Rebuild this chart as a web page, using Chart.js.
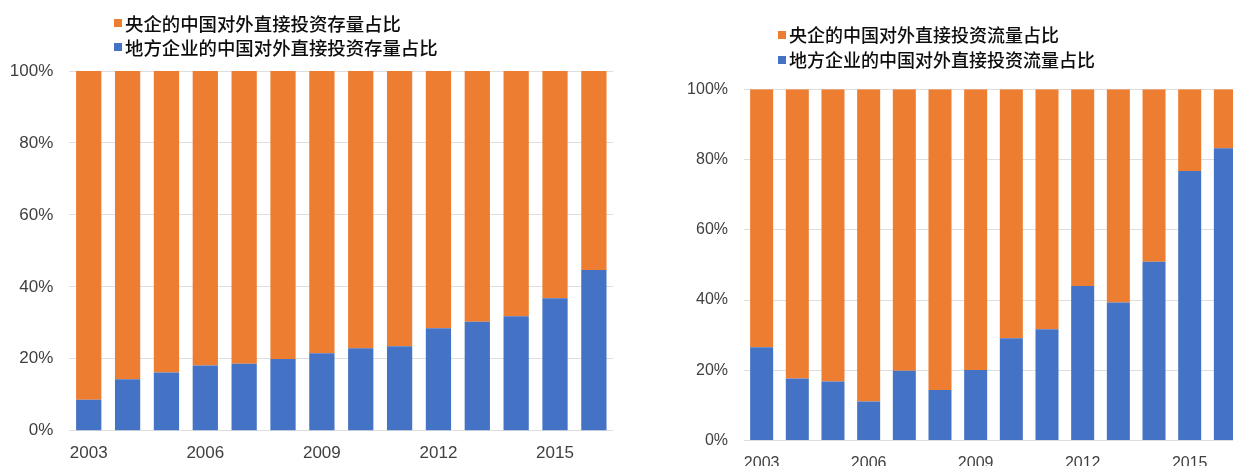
<!DOCTYPE html>
<html>
<head>
<meta charset="utf-8">
<title>央企与地方企业的中国对外直接投资占比</title>
<script src="https://cdn.jsdelivr.net/npm/chart.js"></script>
<style>
    html, body {
        margin: 0;
        padding: 0;
        background: #fff;
        overflow: hidden;
    }
    body {
        position: relative;
        width: 1233px;
        height: 466px;
    }
    canvas {
        position: absolute;
        top: 0;
    }
    #stockChart { left: 0; }
    #flowChart { left: 640px; }
    .legend {
        position: absolute;
        font-family: "Noto Sans CJK SC", sans-serif;
        font-weight: 500;
        color: #0d0d0d;
    }
    .legend .item {
        display: flex;
        align-items: center;
        white-space: nowrap;
    }
    .legend .box {
        display: inline-block;
        width: 8px;
        height: 8px;
        margin-right: 3px;
    }
</style>
</head>
<body>
    <canvas id="stockChart" width="640" height="466"></canvas>
    <canvas id="flowChart" width="620" height="466"></canvas>
    <div class="legend" id="stockLegend" style="left:114px; top:10.5px; font-size:18.4px; line-height:24px;"></div>
    <div class="legend" id="flowLegend" style="left:778px; top:22px; font-size:18px; line-height:25px;"></div>
    <script>
        const years = ['2003', '2004', '2005', '2006', '2007', '2008', '2009',
                       '2010', '2011', '2012', '2013', '2014', '2015', '2016'];

        // 存量占比 (%)
        const stockCentral = [91.4, 85.7, 83.8, 81.9, 81.4, 80.1, 78.5, 77.1, 76.5, 71.5, 69.7, 68.2, 63.2, 55.3];
        const stockLocal   = [8.6, 14.3, 16.2, 18.1, 18.6, 19.9, 21.5, 22.9, 23.5, 28.5, 30.3, 31.8, 36.8, 44.7];

        // 流量占比 (%)
        const flowCentral = [73.4, 82.3, 83.2, 88.9, 80.1, 85.6, 79.9, 70.9, 68.3, 56.0, 60.7, 49.1, 23.3, 16.8];
        const flowLocal   = [26.6, 17.7, 16.8, 11.1, 19.9, 14.4, 20.1, 29.1, 31.7, 44.0, 39.3, 50.9, 76.7, 83.2];

        const orange = '#ED7D31';
        const blue = '#4472C4';

        function buildLegend(id, entries) {
            const box = document.getElementById(id);
            entries.forEach(e => {
                const row = document.createElement('div');
                row.className = 'item';
                const sq = document.createElement('span');
                sq.className = 'box';
                sq.style.background = e.color;
                row.appendChild(sq);
                row.appendChild(document.createTextNode(e.text));
                box.appendChild(row);
            });
        }

        function buildChart(id, local, central, labels, cfg) {
            const font = { family: '"Liberation Sans", Arial, sans-serif', size: cfg.fontSize };
            return new Chart(document.getElementById(id), {
                type: 'bar',
                data: {
                    labels: years,
                    datasets: [
                        { label: labels.local, data: local, backgroundColor: blue,
                          barPercentage: cfg.barPct, categoryPercentage: 1 },
                        { label: labels.central, data: central, backgroundColor: orange,
                          barPercentage: cfg.barPct, categoryPercentage: 1 }
                    ]
                },
                options: {
                    responsive: false,
                    animation: false,
                    layout: { padding: { left: 0, right: cfg.padRight, top: cfg.padTop, bottom: 0 } },
                    plugins: {
                        legend: { display: false },
                        tooltip: { enabled: false }
                    },
                    scales: {
                        x: {
                            stacked: true,
                            grid: { display: false },
                            border: { display: false },
                            ticks: {
                                autoSkip: false,
                                maxRotation: 0,
                                padding: cfg.xPad,
                                color: '#404040',
                                font: font,
                                callback: (v, i) => (i % 3 === 0 ? years[i] : '')
                            },
                            afterFit: s => { s.height = cfg.xHeight; }
                        },
                        y: {
                            stacked: true,
                            min: 0,
                            max: 100,
                            grid: { color: '#dedede', drawTicks: false },
                            border: { display: false },
                            ticks: {
                                stepSize: 20,
                                padding: cfg.yPad,
                                color: '#404040',
                                font: font,
                                callback: v => v + '%'
                            },
                            afterFit: s => { s.width = cfg.yWidth; }
                        }
                    }
                }
            });
        }

        buildLegend('stockLegend', [
            { color: orange, text: '央企的中国对外直接投资存量占比' },
            { color: blue, text: '地方企业的中国对外直接投资存量占比' }
        ]);
        buildLegend('flowLegend', [
            { color: orange, text: '央企的中国对外直接投资流量占比' },
            { color: blue, text: '地方企业的中国对外直接投资流量占比' }
        ]);

        buildChart('stockChart', stockLocal, stockCentral,
            { local: '地方企业的中国对外直接投资存量占比', central: '央企的中国对外直接投资存量占比' },
            { fontSize: 17, barPct: 0.65, padTop: 71, padRight: 26.7, yWidth: 69.3, yPad: 16, xHeight: 35.3, xPad: 4 });

        buildChart('flowChart', flowLocal, flowCentral,
            { local: '地方企业的中国对外直接投资流量占比', central: '央企的中国对外直接投资流量占比' },
            { fontSize: 16, barPct: 0.645, padTop: 89.2, padRight: 16.8, yWidth: 103.8, yPad: 15.8, xHeight: 25.3, xPad: 5 });
    </script>
</body>
</html>
